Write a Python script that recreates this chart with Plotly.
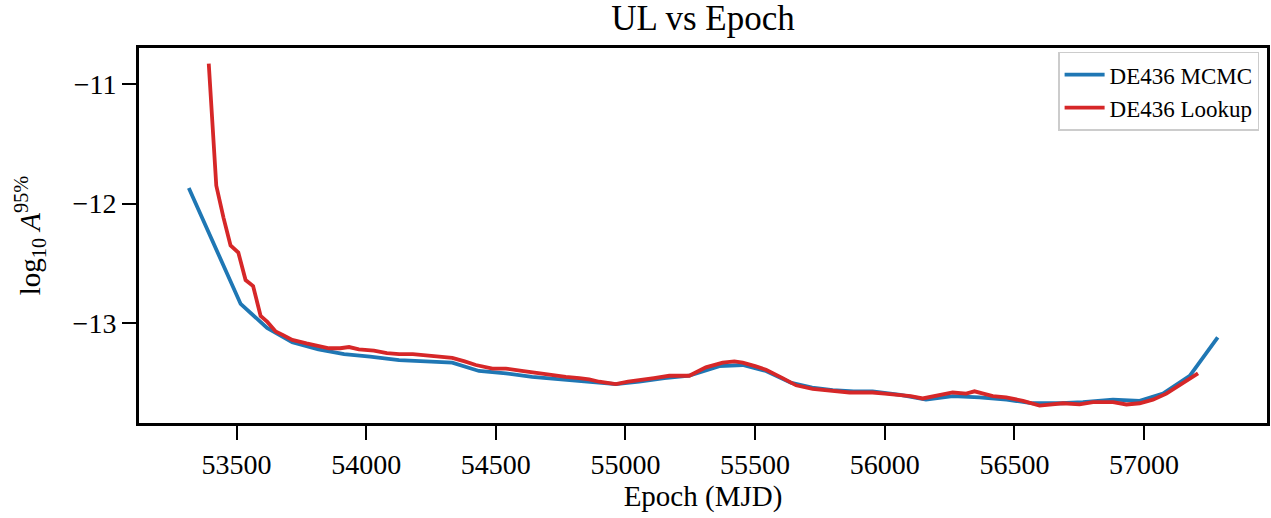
import plotly.graph_objects as go

# DE436 MCMC (blue)
mcmc_epoch = [53316, 53416, 53516, 53618, 53715, 53816, 53915, 54015, 54127, 54230,
              54332, 54435, 54539, 54640, 54740, 54835, 54963, 55053, 55150, 55246,
              55362, 55452, 55542, 55640, 55720, 55799, 55880, 55953, 56060, 56159,
              56262, 56365, 56470, 56571, 56680, 56764, 56880, 56983, 57073, 57176, 57284]
mcmc_ul = [-11.87, -12.36, -12.84, -13.04, -13.16, -13.22, -13.26, -13.28, -13.31, -13.32,
           -13.33, -13.40, -13.42, -13.45, -13.47, -13.49, -13.51, -13.49, -13.46, -13.44,
           -13.36, -13.35, -13.40, -13.50, -13.54, -13.56, -13.57, -13.57, -13.60, -13.64,
           -13.61, -13.62, -13.64, -13.67, -13.67, -13.66, -13.64, -13.65, -13.59, -13.44, -13.12]

# DE436 Lookup (red)
lookup_epoch = [53393, 53422, 53450, 53477, 53507, 53535, 53564, 53593, 53619, 53651,
                53680, 53715, 53770, 53820, 53857, 53900, 53934, 53972, 54030, 54080,
                54127, 54180, 54243, 54290, 54332, 54380, 54423, 54487, 54539, 54600,
                54667, 54720, 54770, 54822, 54860, 54899, 54963, 55010, 55053, 55110,
                55169, 55246, 55310, 55375, 55420, 55452, 55500, 55542, 55606, 55658,
                55722, 55799, 55864, 55920, 55953, 56000, 56044, 56100, 56146, 56211,
                56262, 56314, 56346, 56380, 56417, 56468, 56533, 56597, 56640, 56687,
                56751, 56803, 56880, 56932, 56983, 57034, 57086, 57150, 57208]
lookup_ul = [-10.83, -11.85, -12.12, -12.35, -12.41, -12.64, -12.69, -12.94, -12.99, -13.07,
             -13.10, -13.14, -13.17, -13.19, -13.21, -13.21, -13.20, -13.22, -13.23, -13.25,
             -13.26, -13.26, -13.27, -13.28, -13.29, -13.32, -13.35, -13.38, -13.38, -13.40,
             -13.42, -13.44, -13.45, -13.46, -13.47, -13.49, -13.51, -13.49, -13.48, -13.46,
             -13.44, -13.44, -13.37, -13.33, -13.32, -13.33, -13.36, -13.39, -13.46, -13.52,
             -13.55, -13.57, -13.58, -13.58, -13.58, -13.59, -13.60, -13.61, -13.63, -13.60,
             -13.58, -13.59, -13.57, -13.59, -13.61, -13.62, -13.65, -13.69, -13.68, -13.67,
             -13.68, -13.66, -13.66, -13.68, -13.67, -13.64, -13.59, -13.50, -13.42]

x_ticks = [53500, 54000, 54500, 55000, 55500, 56000, 56500, 57000]
y_ticks = [-11, -12, -13]

FONT = "Liberation Serif"

fig = go.Figure()
fig.add_trace(go.Scatter(x=mcmc_epoch, y=mcmc_ul, mode="lines", name="DE436 MCMC",
                         line=dict(color="#1f77b4", width=3.8)))
fig.add_trace(go.Scatter(x=lookup_epoch, y=lookup_ul, mode="lines", name="DE436 Lookup",
                         line=dict(color="#d62728", width=3.8)))

axis_common = dict(showline=True, linecolor="black", linewidth=3, mirror=True,
                   showgrid=False, zeroline=False, ticks="outside", ticklen=14,
                   tickwidth=1.5, tickcolor="black", automargin=False,
                   tickfont=dict(family=FONT, size=28, color="black"))

fig.update_layout(
    width=1271, height=518,
    margin=dict(l=139, r=4, t=48, b=95),
    paper_bgcolor="white", plot_bgcolor="white",
    title=dict(text="UL vs Epoch", x=0.5, xref="paper", y=0.965, yanchor="middle",
               font=dict(family=FONT, size=35, color="black")),
    xaxis=dict(range=[53124, 57474], tickvals=x_ticks, ticktext=[str(v) for v in x_ticks],
               title=dict(text="Epoch (MJD)", font=dict(family=FONT, size=29, color="black"),
                          standoff=4),
               **axis_common),
    yaxis=dict(range=[-13.835, -10.70], tickvals=y_ticks,
               ticktext=["\u2212" + str(abs(v)) for v in y_ticks],
               title=dict(text="log<sub>10</sub> <i>A</i><sup>95%</sup>",
                          font=dict(family=FONT, size=29, color="black"), standoff=24),
               **axis_common),
    legend=dict(x=0.993, y=0.99, xanchor="right", yanchor="top",
                bgcolor="rgba(255,255,255,0.8)", bordercolor="#cccccc", borderwidth=1.5,
                font=dict(family=FONT, size=23, color="black"),
                itemwidth=40, entrywidth=180, tracegroupgap=0),
    showlegend=True,
)

fig.write_html("out.html", config={"displayModeBar": False},
               post_script="document.body.style.margin='0';document.body.style.overflow='hidden';")
